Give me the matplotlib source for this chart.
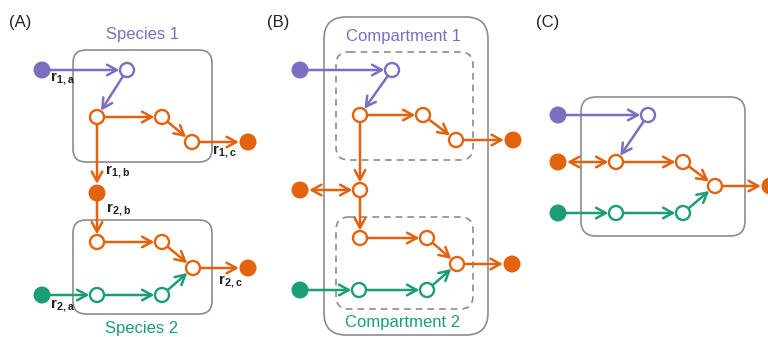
import matplotlib.pyplot as plt
from matplotlib.patches import Circle, FancyBboxPatch, FancyArrowPatch
import numpy as np

plt.rcParams['font.family'] = ['Liberation Sans', 'DejaVu Sans']

PURPLE = '#7b6fc1'
ORANGE = '#e2620d'
GREEN = '#1b9e77'
GRAY = '#8c8c8c'

# nodes: name -> (x, y, colour, filled)   (pixel coords, y down)
nodes = {
    # panel A
    "a_p0": (42, 70, PURPLE, True), "a_p1": (127, 70, PURPLE, False),
    "a_o1": (97, 117, ORANGE, False), "a_o2": (162, 117, ORANGE, False),
    "a_o3": (192, 142, ORANGE, False), "a_o4": (248, 142, ORANGE, True),
    "a_ob": (97, 193, ORANGE, True),
    "a_o5": (97, 242, ORANGE, False), "a_o6": (162, 242, ORANGE, False),
    "a_o7": (193, 268, ORANGE, False), "a_o8": (248, 268, ORANGE, True),
    "a_g0": (42, 295, GREEN, True), "a_g1": (97, 295, GREEN, False),
    "a_g2": (162, 295, GREEN, False),
    # panel B
    "b_p0": (300, 70, PURPLE, True), "b_p1": (392, 70, PURPLE, False),
    "b_o1": (360, 115, ORANGE, False), "b_o2": (423, 115, ORANGE, False),
    "b_o3": (456, 140, ORANGE, False), "b_o4": (513, 140, ORANGE, True),
    "b_ox": (300, 190, ORANGE, True), "b_om": (360, 190, ORANGE, False),
    "b_o5": (360, 238, ORANGE, False), "b_o6": (427, 238, ORANGE, False),
    "b_o7": (457, 264, ORANGE, False), "b_o8": (512, 264, ORANGE, True),
    "b_g0": (300, 290, GREEN, True), "b_g1": (359, 290, GREEN, False),
    "b_g2": (427, 290, GREEN, False),
    # panel C
    "c_p0": (558, 115, PURPLE, True), "c_p1": (648, 115, PURPLE, False),
    "c_ox": (558, 162, ORANGE, True), "c_o1": (616, 162, ORANGE, False),
    "c_o2": (683, 162, ORANGE, False), "c_o3": (715, 186, ORANGE, False),
    "c_o4": (770, 186, ORANGE, True),
    "c_g0": (558, 213, GREEN, True), "c_g1": (616, 213, GREEN, False),
    "c_g2": (683, 213, GREEN, False),
}

# edges: (from, to, colour, two-way)
edges = [
    ("a_p0", "a_p1", PURPLE, False), ("a_p1", "a_o1", PURPLE, False),
    ("a_o1", "a_o2", ORANGE, False), ("a_o2", "a_o3", ORANGE, False),
    ("a_o3", "a_o4", ORANGE, False), ("a_o1", "a_ob", ORANGE, False),
    ("a_ob", "a_o5", ORANGE, False), ("a_o5", "a_o6", ORANGE, False),
    ("a_o6", "a_o7", ORANGE, False), ("a_o7", "a_o8", ORANGE, False),
    ("a_g0", "a_g1", GREEN, False), ("a_g1", "a_g2", GREEN, False),
    ("a_g2", "a_o7", GREEN, False),
    ("b_p0", "b_p1", PURPLE, False), ("b_p1", "b_o1", PURPLE, False),
    ("b_o1", "b_o2", ORANGE, False), ("b_o2", "b_o3", ORANGE, False),
    ("b_o3", "b_o4", ORANGE, False), ("b_o1", "b_om", ORANGE, False),
    ("b_ox", "b_om", ORANGE, True), ("b_om", "b_o5", ORANGE, False),
    ("b_o5", "b_o6", ORANGE, False), ("b_o6", "b_o7", ORANGE, False),
    ("b_o7", "b_o8", ORANGE, False),
    ("b_g0", "b_g1", GREEN, False), ("b_g1", "b_g2", GREEN, False),
    ("b_g2", "b_o7", GREEN, False),
    ("c_p0", "c_p1", PURPLE, False), ("c_p1", "c_o1", PURPLE, False),
    ("c_ox", "c_o1", ORANGE, True), ("c_o1", "c_o2", ORANGE, False),
    ("c_o2", "c_o3", ORANGE, False), ("c_o3", "c_o4", ORANGE, False),
    ("c_g0", "c_g1", GREEN, False), ("c_g1", "c_g2", GREEN, False),
    ("c_g2", "c_o3", GREEN, False),
]

# boxes: (x0, y0, x1, y1, rounding, dashed)
boxes = [
    (73, 50, 212, 162, 13, False), (73, 220, 212, 314, 13, False),
    (324, 17, 488, 335, 22, False),
    (336, 52, 473, 160, 13, True), (336, 217, 473, 309, 13, True),
    (581, 97, 745, 236, 15, False),
]

panel_labels = [("(A)", 20, 22), ("(B)", 278, 22), ("(C)", 548, 23)]
titles = [("Species 1", 142, 35, PURPLE), ("Species 2", 142, 329, GREEN),
          ("Compartment 1", 403, 37, PURPLE), ("Compartment 2", 403, 323, GREEN)]
rates = [("1,a", 50, 79), ("1,c", 212, 152), ("1,b", 105, 172),
         ("2,b", 106, 210), ("2,c", 218, 282), ("2,a", 50, 306)]

R_OPEN = 7.0
R_FILL = 8.5

fig = plt.figure(figsize=(7.68, 3.37), dpi=100)
ax = fig.add_axes([0, 0, 1, 1])
ax.set_xlim(0, 768)
ax.set_ylim(337, 0)
ax.axis("off")

for x0, y0, x1, y1, rr, dashed in boxes:
    ax.add_patch(FancyBboxPatch((x0, y0), x1 - x0, y1 - y0,
                                boxstyle=f"round,pad=0,rounding_size={rr}",
                                fc="none", ec=GRAY, lw=1.2,
                                ls=(0, (4, 3)) if dashed else "-", zorder=1))


def radius(name):
    return (R_FILL if nodes[name][3] else R_OPEN) + 0.6


for a, b, col, both in edges:
    xa, ya = nodes[a][:2]
    xb, yb = nodes[b][:2]
    d = np.array([xb - xa, yb - ya], float)
    u = d / np.hypot(*d)
    start = np.array([xa, ya]) + (u * radius(a) if both else 0)
    end = np.array([xb, yb]) - u * radius(b)
    style = "<->" if both else "->"
    ax.add_patch(FancyArrowPatch(tuple(start), tuple(end),
                                 arrowstyle=f"{style},head_length=0.7,head_width=0.38",
                                 mutation_scale=10, color=col, lw=1.8,
                                 shrinkA=0, shrinkB=0, zorder=2))

for name, (x, y, col, filled) in nodes.items():
    if filled:
        ax.add_patch(Circle((x, y), R_FILL, fc=col, ec="none", zorder=3))
    else:
        ax.add_patch(Circle((x, y), R_OPEN, fc="white", ec=col, lw=1.7, zorder=3))

for t, x, y in panel_labels:
    ax.text(x, y, t, fontsize=12, ha="center", va="center", color="#222222")

for t, x, y, col in titles:
    ax.text(x, y, t, fontsize=12, ha="center", va="center", color=col)

for sub, x, y in rates:
    ax.text(x, y, r"$\mathregular{r_{%s}}$" % sub, fontsize=11, ha="left",
            va="center", color="#222222", fontweight="bold")

fig.savefig("out.png", dpi=100)
